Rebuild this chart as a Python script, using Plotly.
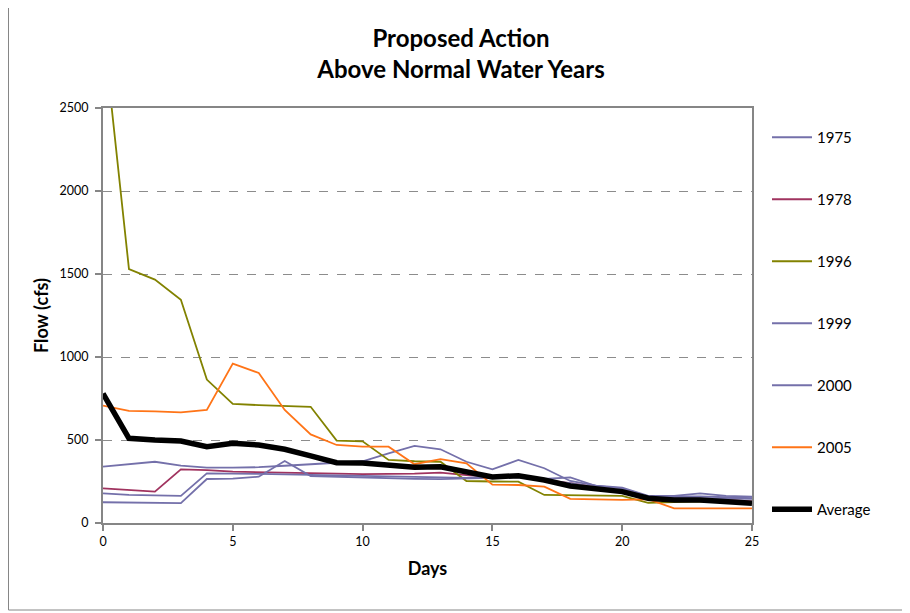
import plotly.graph_objects as go

days = list(range(26))

y1975 = [340, 355, 369, 345, 333, 333, 336, 345, 355, 365, 372, 420, 464, 444, 369, 323, 380, 330, 253, 225, 213, 163, 163, 179, 163, 158]
y1978 = [209, 199, 189, 323, 319, 309, 305, 302, 300, 297, 295, 295, 298, 303, 289, 280, 285, 260, 240, 215, 195, 150, 150, 145, 140, 130]
y1996 = [2990, 1530, 1466, 1345, 864, 717, 710, 705, 700, 496, 492, 380, 372, 369, 253, 250, 249, 169, 167, 165, 163, 122, 128, 130, 128, 125]
y1999 = [179, 169, 167, 163, 299, 299, 296, 293, 290, 287, 284, 281, 278, 275, 272, 280, 282, 265, 275, 223, 209, 160, 160, 160, 155, 150]
y2000 = [125, 123, 123, 120, 265, 267, 279, 373, 283, 278, 274, 270, 266, 264, 268, 275, 276, 255, 240, 215, 200, 155, 155, 150, 148, 145]
y2005 = [707, 675, 672, 667, 681, 960, 904, 681, 534, 470, 460, 460, 354, 385, 360, 231, 229, 219, 145, 142, 139, 143, 88, 88, 88, 88]
yavg = [780, 510, 500, 494, 460, 480, 470, 444, 404, 363, 362, 349, 336, 339, 309, 277, 285, 259, 223, 203, 189, 149, 139, 139, 128, 119]

series = [
    ("1975", y1975, "#7470aa", 1.8),
    ("1978", y1978, "#a0335f", 1.8),
    ("1996", y1996, "#828200", 1.8),
    ("1999", y1999, "#7470aa", 1.8),
    ("2000", y2000, "#7470aa", 1.8),
    ("2005", y2005, "#ff7417", 1.8),
    ("Average", yavg, "#000000", 5.5),
]

fig = go.Figure()
for name, ys, color, w in series:
    fig.add_trace(go.Scatter(x=days, y=ys, mode="lines", name=name,
                             legendgroup=name,
                             line=dict(color=color, width=w)))

# the page adds an 8px body margin; work in screen pixels and subtract it
OFF = 8
W, H = 910 - OFF, 613 - OFF
L, R, T, B = 103 - OFF, 752 - OFF, 108 - OFF, 523 - OFF
pw, ph = R - L, B - T

def px2x(sx):
    return (sx - OFF - L) / pw

def py2y(sy):
    return (B - (sy - OFF)) / ph

fig.update_layout(
    width=W, height=H,
    margin=dict(l=L, r=W - R, t=T, b=H - B, autoexpand=False),
    paper_bgcolor="white", plot_bgcolor="white",
    font=dict(family="Lato, Open Sans, sans-serif", size=12, color="black"),
    title=dict(text="<b>Proposed Action</b><br><b>Above Normal Water Years</b>",
               x=(461 - OFF) / W, xanchor="center", y=1 - (47 - OFF) / H, yanchor="middle",
               font=dict(size=24, family="Lato, sans-serif")),
    showlegend=True,
    legend=dict(x=px2x(767), xanchor="left", y=py2y(121), yanchor="top",
                traceorder="grouped", tracegroupgap=39.5,
                font=dict(size=15), bgcolor="rgba(0,0,0,0)", itemwidth=40),
    xaxis=dict(range=[0, 25], tickvals=[0, 5, 10, 15, 20, 25],
               showline=True, linecolor="#868686", linewidth=2, mirror=True,
               ticks="outside", ticklen=6, tickcolor="#868686", tickwidth=1.5,
               showgrid=False, zeroline=False,
               title=dict(text="<b>Days</b>", font=dict(size=18), standoff=14),
               tickfont=dict(size=12.5)),
    yaxis=dict(range=[0, 2500], tickvals=[0, 500, 1000, 1500, 2000, 2500],
               showline=True, linecolor="#868686", linewidth=2, mirror=True,
               ticks="outside", ticklen=6, tickcolor="#868686", tickwidth=1.5,
               ticklabelstandoff=4,
               showgrid=True, gridcolor="#8c8c8c", griddash="dash", gridwidth=1,
               zeroline=False,
               title=dict(text="<b>Flow (cfs)</b>", font=dict(size=18), standoff=6),
               tickfont=dict(size=12.5)),
)

# outer chart border
fig.add_shape(type="rect", xref="paper", yref="paper",
              x0=px2x(8.5), x1=px2x(906), y0=py2y(610), y1=py2y(-5),
              line=dict(color="#868686", width=1), layer="below")

fig.write_html("out.html")
